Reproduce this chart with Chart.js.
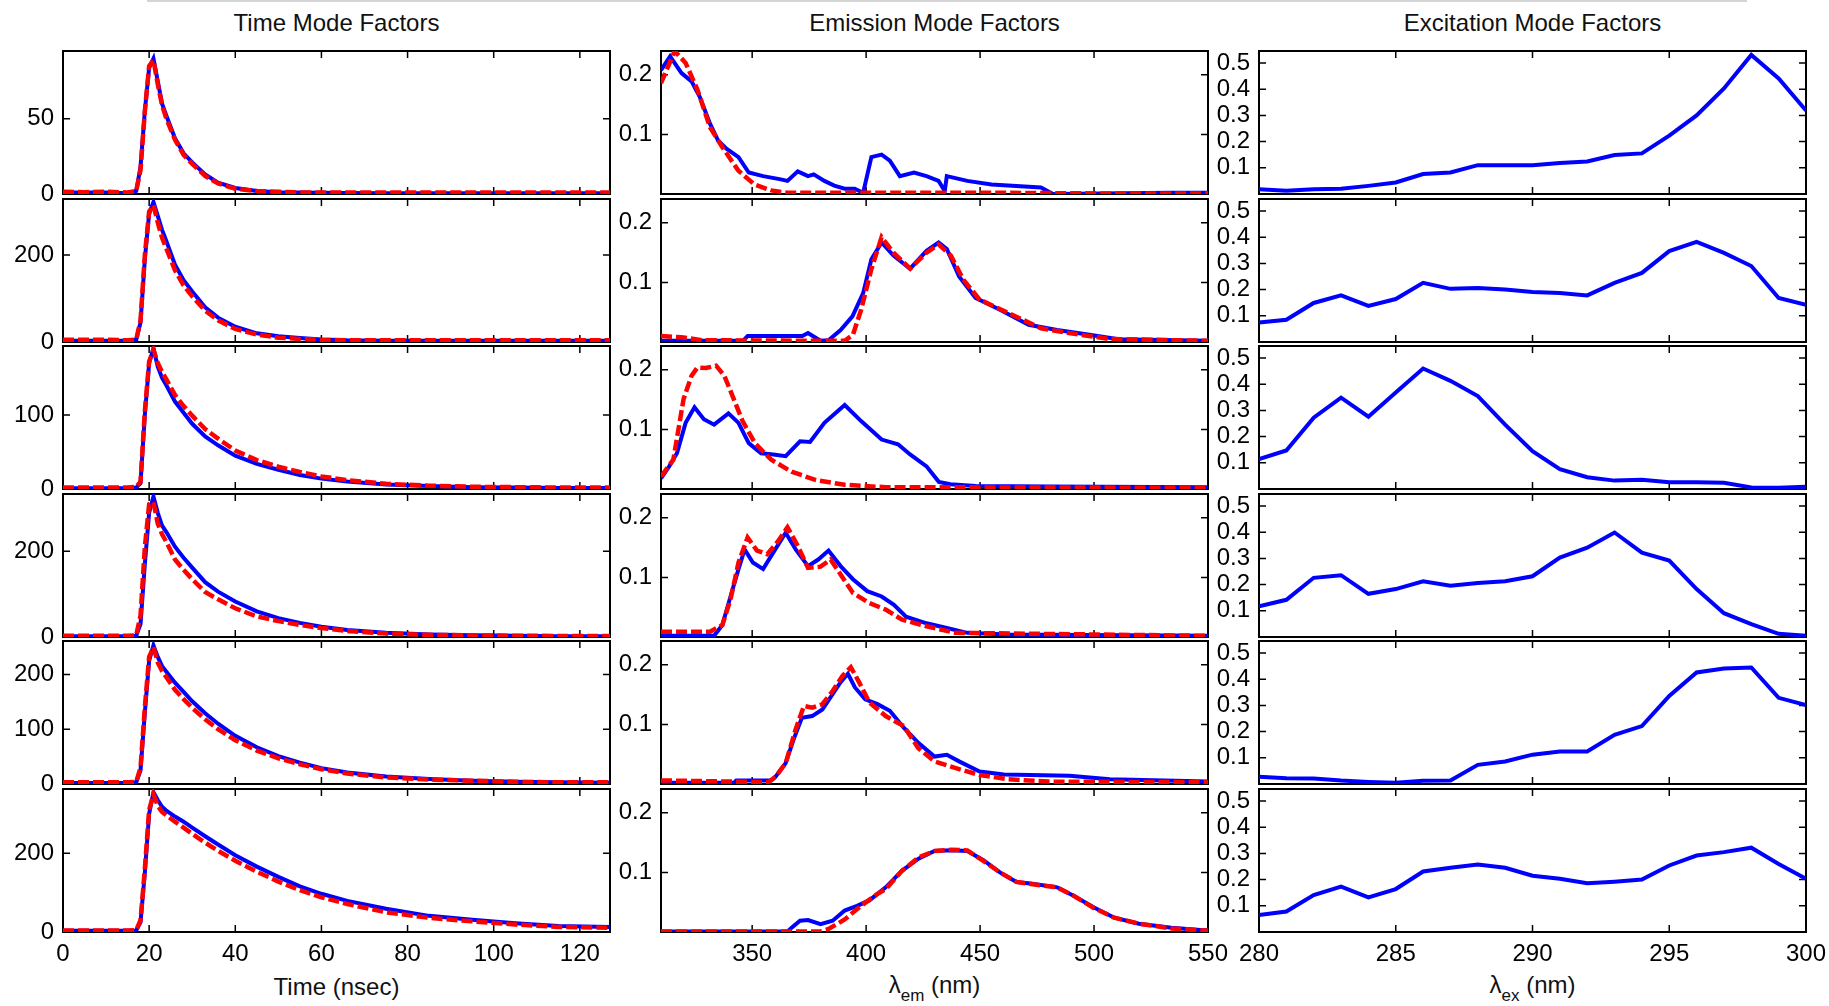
<!DOCTYPE html>
<html>
<head>
<meta charset="utf-8">
<title>Mode Factors</title>
<script src="https://cdn.jsdelivr.net/npm/chart.js@4.4.1/dist/chart.umd.min.js"></script>
<style>
    body {
        margin: 0;
        background: #fff;
        width: 1829px;
        height: 1006px;
        overflow: hidden;
        position: relative;
        font-family: 'Liberation Sans', Arial, sans-serif;
    }
    .panel { position: absolute; }
    .label {
        position: absolute;
        font-size: 24px;
        line-height: 28px;
        text-align: center;
        color: #111;
        white-space: nowrap;
    }
    .label .sub { font-size: 17px; position: relative; top: 8px; }
    .topline {
        position: absolute;
        left: 147px;
        top: 0;
        width: 1600px;
        height: 2px;
        background: #d4d4d4;
    }
</style>
</head>
<body>
<div class="topline"></div>
<div class="label" style="left:63px; top:9px; width:547px;">Time Mode Factors</div>
<div class="label" style="left:661px; top:9px; width:547px;">Emission Mode Factors</div>
<div class="label" style="left:1259px; top:9px; width:547px;">Excitation Mode Factors</div>
<div class="label" style="left:63px; top:973px; width:547px;">Time (nsec)</div>
<div class="label" style="left:661px; top:971px; width:547px;">&lambda;<span class="sub">em</span> (nm)</div>
<div class="label" style="left:1259px; top:971px; width:547px;">&lambda;<span class="sub">ex</span> (nm)</div>
<script>
// Time mode factors (nsec), blue = fitted, red dashed = reference
const timeNs = [0, 5, 10, 15, 17, 18, 19, 20, 21, 22, 23, 24, 26, 28, 30, 33, 36, 40, 45, 50, 55, 60, 66, 75, 85, 95, 105, 115, 127];

const time1Blue = [1, 1, 1, 0.5, 2, 18, 55, 84, 90, 75, 60, 52, 37, 27, 21, 13, 7.5, 4, 2, 1.2, 1, 0.8, 0.6, 0.5, 0.5, 0.5, 0.5, 0.5, 0.5];
const time1Red = [1.5, 1.2, 1.5, 1, 2, 16, 55, 85, 89, 73, 59, 50, 36, 26, 20, 12, 7, 3.5, 2, 1.5, 1, 1, 1, 1, 1, 1, 1, 1, 1];
const time2Blue = [3, 3, 3, 3, 5, 45, 190, 295, 322, 290, 258, 232, 178, 142, 116, 80, 56, 35, 20, 13, 9, 6, 4, 3, 3, 3, 3, 3, 3];
const time2Red = [5, 5, 5, 4, 6, 50, 200, 300, 315, 275, 240, 215, 165, 130, 105, 72, 50, 30, 17, 10, 7, 5, 4, 4, 4, 4, 4, 4, 4];
const time3Blue = [1, 1, 1, 1, 2, 8, 100, 170, 190, 165, 150, 140, 118, 103, 88, 71, 59, 45, 34, 26, 19, 14, 10, 6, 4, 2.5, 2, 1.5, 1.5];
const time3Red = [2, 2, 2, 2, 3, 10, 105, 172, 188, 170, 158, 148, 127, 112, 99, 81, 68, 52, 39, 30, 23, 17, 12, 7, 4.5, 3, 2.5, 2, 2];
const time4Blue = [2, 2, 2, 2, 3, 30, 170, 290, 328, 290, 260, 245, 211, 185, 162, 128, 106, 83, 60, 44, 33, 24, 16.5, 10, 6, 4, 3, 2, 2];
const time4Red = [3, 3, 3, 3, 4, 50, 210, 310, 315, 265, 240, 222, 181, 157, 135, 105, 88, 67, 48, 37, 28, 21, 14, 8, 5, 4, 3, 2.5, 2.5];
const time5Blue = [2, 2, 2, 2, 3, 25, 130, 225, 253, 232, 215, 205, 185, 168, 151, 129, 110, 88, 67, 51, 39, 29, 21, 13.5, 9, 6, 4, 3, 2.5];
const time5Red = [3, 3, 3, 3, 4, 30, 140, 232, 250, 222, 206, 195, 172, 155, 139, 118, 100, 80, 61, 47, 36, 27, 19, 12, 8, 6, 4, 3, 3];
const time6Blue = [3, 3, 3, 3, 4, 25, 150, 300, 355, 335, 318, 308, 293, 280, 265, 243, 222, 195, 166, 140, 116, 97, 79, 59, 41, 31, 22, 15, 13];
const time6Red = [4, 4, 4, 4, 5, 30, 160, 310, 350, 320, 305, 296, 280, 265, 249, 227, 206, 181, 153, 128, 106, 88, 71, 50, 36, 27, 19, 13, 11];

// Emission mode factors (nm)
const em1BlueX = [310, 314, 319, 323.4, 327, 331.5, 335, 338.7, 344, 348.5, 354.8, 362, 365.5, 370, 374.5, 377, 381.7, 386, 390.6, 395, 398.7, 402.3, 406.8, 410.4, 414.8, 421, 426.5, 431.8, 434.5, 435.4, 444.4, 455, 476.7, 482, 534, 550];
const em1BlueY = [0.208, 0.231, 0.203, 0.189, 0.163, 0.118, 0.09, 0.076, 0.062, 0.036, 0.03, 0.025, 0.022, 0.038, 0.03, 0.033, 0.022, 0.014, 0.009, 0.009, 0.002, 0.062, 0.066, 0.056, 0.03, 0.036, 0.03, 0.022, 0.005, 0.03, 0.022, 0.016, 0.011, 0.0, 0.002, 0.002];
const em1RedX = [310, 316, 320.8, 326, 331.5, 337, 344, 351, 358.4, 365.5, 400, 460, 500, 550];
const em1RedY = [0.186, 0.24, 0.22, 0.175, 0.112, 0.078, 0.039, 0.016, 0.006, 0.002, 0.002, 0.002, 0.001, 0.001];

const em2BlueX = [310, 346, 348, 372, 374.5, 380, 383.5, 388.8, 394, 398.7, 402.3, 406.8, 412, 419.3, 426.5, 431.8, 435.4, 440.8, 448, 458.7, 471.3, 483.8, 498, 510.7, 550];
const em2BlueY = [0.002, 0.002, 0.01, 0.01, 0.015, 0.002, 0.003, 0.02, 0.043, 0.082, 0.139, 0.167, 0.145, 0.123, 0.153, 0.167, 0.156, 0.11, 0.074, 0.054, 0.029, 0.02, 0.012, 0.0045, 0.002];
const em2RedX = [310, 319, 328, 380, 390.6, 394.2, 397.8, 402.3, 406.8, 412, 419.3, 426.5, 431.8, 437.2, 442.6, 449.8, 462.3, 476.7, 489, 507, 550];
const em2RedY = [0.01, 0.008, 0.003, 0.002, 0.002, 0.012, 0.054, 0.122, 0.176, 0.15, 0.123, 0.15, 0.164, 0.145, 0.105, 0.071, 0.049, 0.023, 0.015, 0.005, 0.002];

const em3BlueX = [310, 313.6, 317, 320.8, 324.7, 328.8, 333.3, 339.6, 344, 348.5, 353.9, 359.3, 364.7, 371, 375.4, 381.7, 390.6, 397.8, 406.8, 414, 419.3, 426.5, 431.9, 437, 448, 480, 550];
const em3BlueY = [0.018, 0.038, 0.06, 0.111, 0.137, 0.117, 0.108, 0.127, 0.111, 0.077, 0.06, 0.058, 0.055, 0.08, 0.079, 0.111, 0.141, 0.114, 0.083, 0.075, 0.058, 0.038, 0.012, 0.008, 0.005, 0.004, 0.003];
const em3RedX = [310, 315.4, 319.9, 323.4, 326, 329.7, 334.2, 337.8, 341.4, 345.8, 351.2, 358.4, 367.3, 378, 390.6, 408.6, 550];
const em3RedY = [0.021, 0.049, 0.151, 0.19, 0.204, 0.203, 0.207, 0.19, 0.156, 0.114, 0.077, 0.049, 0.029, 0.015, 0.007, 0.003, 0.002];

const em4BlueX = [310, 333.3, 336.9, 340.5, 344, 346.7, 350.3, 354.8, 359.3, 364.7, 369.1, 374.5, 379, 383.5, 388.8, 394.2, 400.5, 406.8, 412.2, 417.5, 426.5, 435.4, 444.4, 462, 550];
const em4BlueY = [0.002, 0.002, 0.02, 0.068, 0.114, 0.147, 0.125, 0.114, 0.142, 0.175, 0.147, 0.119, 0.13, 0.145, 0.119, 0.097, 0.077, 0.068, 0.054, 0.034, 0.023, 0.015, 0.007, 0.004, 0.002];
const em4RedX = [310, 331.5, 336.9, 340.5, 344, 348, 352.1, 356.6, 361, 365.5, 370, 374.5, 380, 384.4, 388.8, 394.2, 401.4, 408.6, 415.8, 426.5, 439, 550];
const em4RedY = [0.009, 0.009, 0.02, 0.063, 0.125, 0.167, 0.145, 0.139, 0.159, 0.184, 0.153, 0.116, 0.118, 0.13, 0.105, 0.074, 0.057, 0.046, 0.029, 0.018, 0.007, 0.002];

const em5BlueX = [310, 342, 343, 358.4, 360.2, 364.7, 368.2, 371.8, 376.3, 380.8, 385.3, 388.8, 392, 395.1, 399.6, 405, 410.4, 416.6, 422.9, 430, 435.4, 440.8, 449.8, 460.5, 489.2, 507, 550];
const em5BlueY = [0.002, 0.002, 0.006, 0.006, 0.012, 0.035, 0.075, 0.111, 0.114, 0.125, 0.151, 0.171, 0.185, 0.162, 0.142, 0.134, 0.123, 0.094, 0.069, 0.046, 0.049, 0.038, 0.021, 0.016, 0.014, 0.008, 0.004];
const em5RedX = [310, 357, 360.2, 364.7, 369.1, 372.7, 376.3, 380.8, 385.3, 389.7, 393.3, 396.9, 401.4, 408.6, 416.6, 422.9, 430, 439, 449.8, 462.3, 480, 550];
const em5RedY = [0.006, 0.003, 0.012, 0.035, 0.092, 0.131, 0.128, 0.134, 0.156, 0.182, 0.196, 0.171, 0.137, 0.114, 0.097, 0.06, 0.038, 0.027, 0.015, 0.008, 0.004, 0.003];

const em6BlueX = [310, 365.5, 367.3, 371, 374.5, 380, 385.3, 390.6, 396, 401.4, 408.6, 415.8, 423, 430, 437.2, 444.4, 451.6, 458.7, 466, 473, 483.8, 491, 500, 508.9, 519.7, 534, 548, 550];
const em6BlueY = [0.001, 0.001, 0.007, 0.019, 0.02, 0.013, 0.019, 0.036, 0.044, 0.053, 0.075, 0.103, 0.123, 0.136, 0.137, 0.136, 0.12, 0.1, 0.084, 0.081, 0.075, 0.061, 0.041, 0.024, 0.014, 0.007, 0.003, 0.003];
const em6RedX = [310, 380, 383.5, 390.6, 397.8, 405, 408.6, 415.8, 423, 430, 437.2, 444.4, 451.6, 458.7, 466, 473, 483.8, 491, 500, 508.9, 519.7, 534, 550];
const em6RedY = [0.001, 0.001, 0.005, 0.021, 0.044, 0.064, 0.072, 0.103, 0.125, 0.136, 0.138, 0.137, 0.119, 0.1, 0.084, 0.08, 0.075, 0.061, 0.04, 0.024, 0.014, 0.006, 0.002];

// Excitation mode factors (nm)
const exWl = [280, 281, 282, 283, 284, 285, 286, 287, 288, 289, 290, 291, 292, 293, 294, 295, 296, 297, 298, 299, 300];
const ex1 = [0.018, 0.012, 0.018, 0.02, 0.031, 0.044, 0.076, 0.082, 0.11, 0.11, 0.11, 0.118, 0.124, 0.149, 0.155, 0.223, 0.3, 0.403, 0.531, 0.441, 0.319];
const ex2 = [0.074, 0.085, 0.149, 0.178, 0.138, 0.164, 0.226, 0.203, 0.206, 0.2, 0.191, 0.187, 0.178, 0.226, 0.264, 0.347, 0.382, 0.34, 0.29, 0.168, 0.142];
const ex3 = [0.114, 0.147, 0.272, 0.349, 0.276, 0.368, 0.46, 0.413, 0.355, 0.246, 0.144, 0.076, 0.045, 0.032, 0.035, 0.026, 0.026, 0.024, 0.006, 0.005, 0.009];
const ex4 = [0.117, 0.142, 0.226, 0.236, 0.165, 0.183, 0.213, 0.196, 0.206, 0.213, 0.232, 0.303, 0.341, 0.399, 0.322, 0.292, 0.183, 0.091, 0.049, 0.012, 0.005];
const ex5 = [0.028, 0.022, 0.021, 0.013, 0.008, 0.005, 0.012, 0.013, 0.073, 0.086, 0.112, 0.124, 0.124, 0.188, 0.221, 0.336, 0.426, 0.441, 0.445, 0.329, 0.301];
const ex6 = [0.065, 0.078, 0.141, 0.173, 0.132, 0.164, 0.231, 0.245, 0.258, 0.245, 0.215, 0.203, 0.186, 0.192, 0.2, 0.254, 0.292, 0.305, 0.322, 0.26, 0.203];

// Axis ticks and ranges
const timeTicks = [0, 20, 40, 60, 80, 100, 120];
const emTicks = [350, 400, 450, 500, 550];
const exTicks = [280, 285, 290, 295, 300];
const timeYTicks = [[0, 50], [0, 200], [0, 100], [0, 200], [0, 100, 200], [0, 200]];
const timeYMax = [95, 329, 193, 334, 261, 363];
const emYTicks = [0.1, 0.2];
const exYTicks = [0.1, 0.2, 0.3, 0.4, 0.5];

// Panel geometry (px)
const colLeft = [63, 661, 1259];
const rowTop = [51, 199, 346, 494, 641, 789];
const PW = 547, PH = 143;
const LEFT = 60, TOP = 6, RIGHT = 24;

Chart.defaults.font.family = "'Liberation Sans', Arial, sans-serif";
Chart.defaults.color = '#000';

// Box round the plot area with inward tick marks on all four sides
const frameTicks = {
    id: 'frameTicks',
    beforeDatasetsDraw(chart) {
        const { ctx, chartArea: a, scales } = chart;
        ctx.save();
        ctx.strokeStyle = '#000';
        ctx.lineWidth = 1.5;
        ctx.beginPath();
        scales.x.ticks.forEach(t => {
            const px = scales.x.getPixelForValue(t.value);
            ctx.moveTo(px, a.bottom); ctx.lineTo(px, a.bottom - 7);
            ctx.moveTo(px, a.top); ctx.lineTo(px, a.top + 7);
        });
        scales.y.ticks.forEach(t => {
            const py = scales.y.getPixelForValue(t.value);
            ctx.moveTo(a.left, py); ctx.lineTo(a.left + 7, py);
            ctx.moveTo(a.right, py); ctx.lineTo(a.right - 7, py);
        });
        ctx.stroke();
        ctx.lineWidth = 2;
        ctx.strokeRect(a.left, a.top, a.right - a.left, a.bottom - a.top);
        ctx.restore();
    }
};

function toPoints(xs, ys) {
    return xs.map((x, i) => ({ x: x, y: ys[i] }));
}

function lineSet(xs, ys, color, dashed) {
    return {
        data: toPoints(xs, ys),
        borderColor: color,
        borderWidth: dashed ? 4.5 : 4,
        borderDash: dashed ? [11, 4] : [],
        pointRadius: 0,
        tension: 0,
        fill: false
    };
}

function makePanel(col, row, datasets, xMin, xMax, xTicks, yMax, yTicks) {
    const bottomRow = row === 5;
    // room under the plot: tick labels on the bottom row, else just the "0" label
    const B = bottomRow ? 50 : 18;
    const div = document.createElement('div');
    div.className = 'panel';
    div.style.left = (colLeft[col] - LEFT) + 'px';
    div.style.top = (rowTop[row] - TOP) + 'px';
    div.style.width = (LEFT + PW + RIGHT) + 'px';
    div.style.height = (TOP + PH + B) + 'px';
    const canvas = document.createElement('canvas');
    div.appendChild(canvas);
    document.body.appendChild(div);

    new Chart(canvas, {
        type: 'line',
        data: { datasets: datasets },
        plugins: [frameTicks],
        options: {
            responsive: true,
            maintainAspectRatio: false,
            animation: false,
            events: [],
            layout: { padding: { left: 0, right: RIGHT, top: TOP, bottom: 0 } },
            plugins: { legend: { display: false }, tooltip: { enabled: false } },
            scales: {
                x: {
                    type: 'linear',
                    min: xMin,
                    max: xMax,
                    grid: { display: false, drawTicks: false },
                    border: { display: false },
                    ticks: {
                        display: bottomRow,
                        autoSkip: false,
                        maxRotation: 0,
                        padding: 8,
                        font: { size: 24 },
                        callback: v => String(v)
                    },
                    afterBuildTicks: s => { s.ticks = xTicks.map(v => ({ value: v })); },
                    afterFit: s => { s.height = B; s.paddingLeft = 0; s.paddingRight = 0; }
                },
                y: {
                    type: 'linear',
                    min: 0,
                    max: yMax,
                    grid: { display: false, drawTicks: false },
                    border: { display: false },
                    ticks: {
                        autoSkip: false,
                        padding: 9,
                        font: { size: 24 },
                        callback: v => String(v)
                    },
                    afterBuildTicks: s => { s.ticks = yTicks.map(v => ({ value: v })); },
                    afterFit: s => { s.width = LEFT; s.paddingTop = 0; s.paddingBottom = 0; }
                }
            }
        }
    });
}

const RED = '#ff0000', BLUE = '#0000ff';

const timeRows = [
    [time1Red, time1Blue], [time2Red, time2Blue], [time3Red, time3Blue],
    [time4Red, time4Blue], [time5Red, time5Blue], [time6Red, time6Blue]
];
const emRows = [
    [em1RedX, em1RedY, em1BlueX, em1BlueY], [em2RedX, em2RedY, em2BlueX, em2BlueY],
    [em3RedX, em3RedY, em3BlueX, em3BlueY], [em4RedX, em4RedY, em4BlueX, em4BlueY],
    [em5RedX, em5RedY, em5BlueX, em5BlueY], [em6RedX, em6RedY, em6BlueX, em6BlueY]
];
const exRows = [ex1, ex2, ex3, ex4, ex5, ex6];

for (let r = 0; r < 6; r++) {
    // red first so that it is drawn on top of blue
    makePanel(0, r, [
        lineSet(timeNs, timeRows[r][0], RED, true),
        lineSet(timeNs, timeRows[r][1], BLUE, false)
    ], 0, 127, timeTicks, timeYMax[r], timeYTicks[r]);

    const e = emRows[r];
    makePanel(1, r, [
        lineSet(e[0], e[1], RED, true),
        lineSet(e[2], e[3], BLUE, false)
    ], 310, 550, emTicks, 0.24, emYTicks);

    makePanel(2, r, [
        lineSet(exWl, exRows[r], BLUE, false)
    ], 280, 300, exTicks, 0.546, exYTicks);
}
</script>
</body>
</html>
